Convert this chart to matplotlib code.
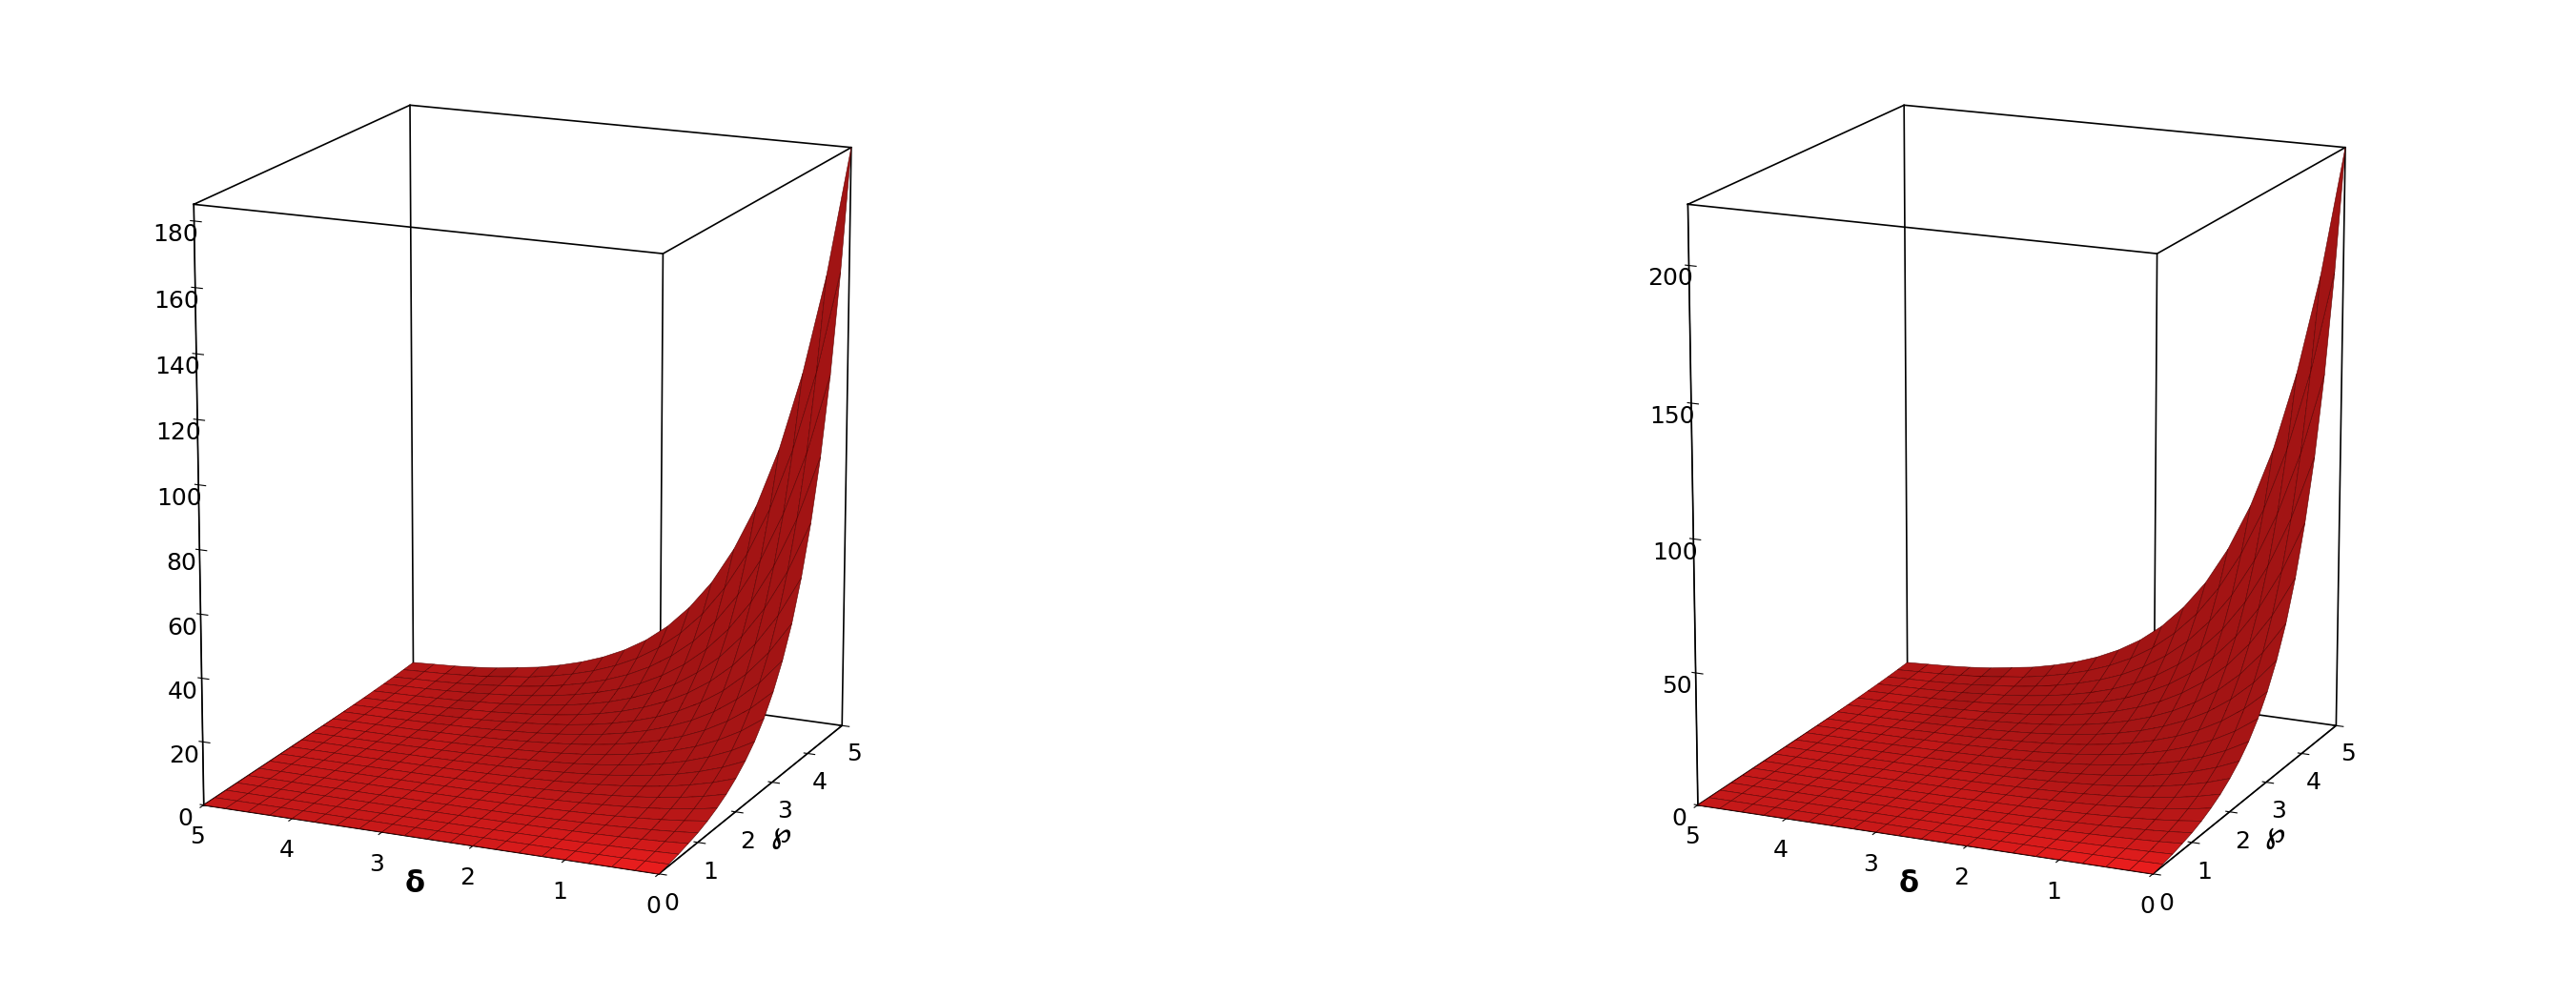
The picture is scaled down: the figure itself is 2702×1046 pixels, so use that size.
import numpy as np
import matplotlib.pyplot as plt

# grid values for delta and wp (0..5, step 0.25)
delta = [0, .25, .5, .75, 1, 1.25, 1.5, 1.75, 2, 2.25, 2.5, 2.75, 3, 3.25, 3.5, 3.75, 4, 4.25, 4.5, 4.75, 5]
wp = [0, .25, .5, .75, 1, 1.25, 1.5, 1.75, 2, 2.25, 2.5, 2.75, 3, 3.25, 3.5, 3.75, 4, 4.25, 4.5, 4.75, 5]
# shape of the surface (fraction of peak)
wp_profile = [0, .0028, .0064, .011, .016, .023, .032, .043, .057, .074, .095, .122,
              .156, .198, .25, .317, .40, .503, .634, .80, 1.0]
delta_decay = [1, .779, .607, .472, .368, .287, .223, .174, .135, .105, .082, .064,
               .050, .039, .030, .024, .018, .014, .011, .009, .007]
peaks = [185, 222]
zticks = [list(range(0, 181, 20)), list(range(0, 201, 50))]

D, W = np.meshgrid(delta, wp)
shape = np.outer(wp_profile, delta_decay)

fig = plt.figure(figsize=(27.02, 10.46), dpi=100)
rects = [[-0.02, -0.02, 0.44, 1.06], [0.56, -0.02, 0.44, 1.06]]
for i, peak in enumerate(peaks):
    ax = fig.add_axes(rects[i], projection='3d')
    ax.plot_surface(D, W, peak * shape, color='#ff2020', edgecolor='#5a0000',
                    linewidth=0.4, shade=True, antialiased=True)
    ax.set_xlim(5, 0)
    ax.set_ylim(0, 5)
    ax.set_zlim(0, peak)
    ax.set_box_aspect((1, 1, 1.25), zoom=0.85)
    ax.view_init(elev=16, azim=-66)
    ax.set_proj_type('persp', focal_length=1.0)
    ax.grid(False)
    for a in (ax.xaxis, ax.yaxis, ax.zaxis):
        a.set_pane_color((1, 1, 1, 0))
        a.line.set_color('black')
    ax.zaxis._axinfo['juggled'] = (1, 2, 0)
    ax.set_zticks(zticks[i])
    ax.set_xticks([0, 1, 2, 3, 4, 5])
    ax.set_yticks([0, 1, 2, 3, 4, 5])
    ax.tick_params(labelsize=18)
    ax.set_xlabel('δ', fontsize=22, fontweight='bold')
    ax.set_ylabel('℘', fontsize=22, fontweight='bold')
    # box edges
    for x in (0, 5):
        for y in (0, 5):
            ax.plot([x, x], [y, y], [0, peak], color='black', lw=1.2)
    for z in (0, peak):
        ax.plot([5, 0, 0, 5, 5], [0, 0, 5, 5, 0], [z] * 5, color='black', lw=1.2)

plt.savefig('out.png', dpi=100)
